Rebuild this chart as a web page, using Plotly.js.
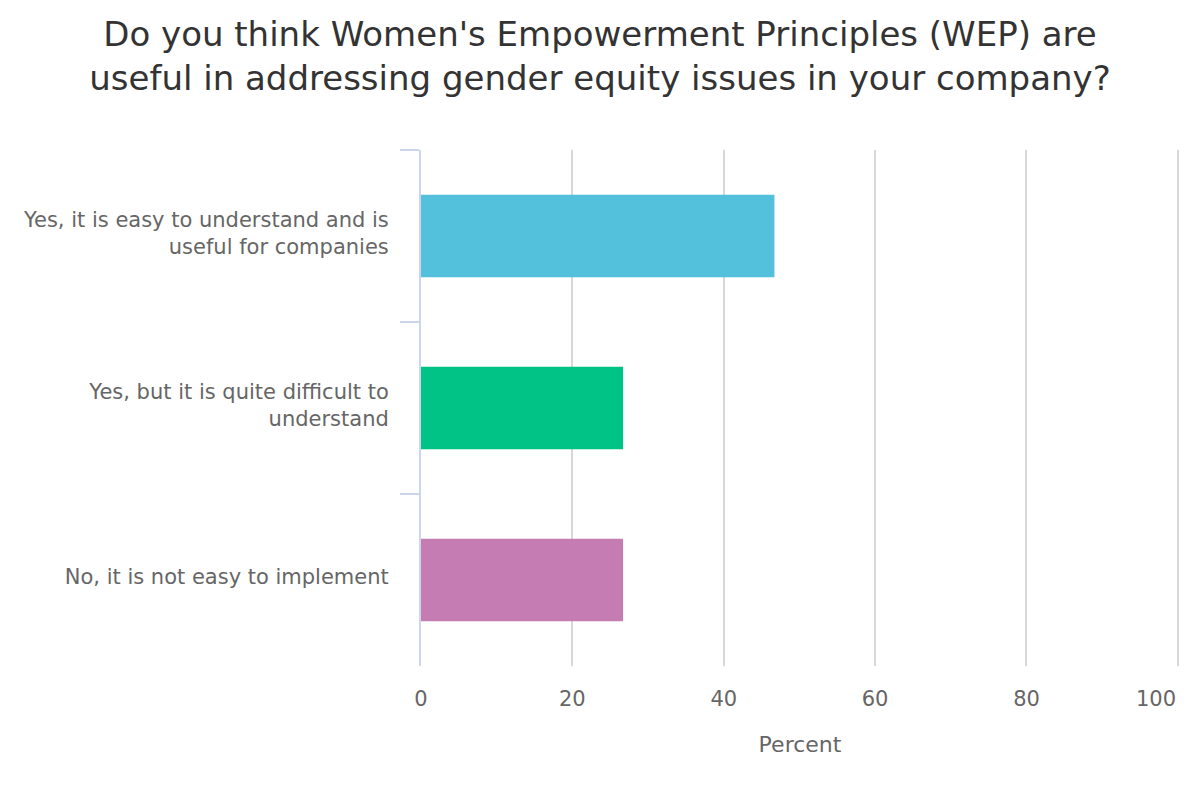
<!DOCTYPE html>
<html>
<head>
<meta charset="utf-8">
<script src="https://cdn.plot.ly/plotly-3.0.1.min.js"></script>
<style>html,body{margin:0;padding:0;background:#fff}#chart{width:1200px;height:800px}</style>
</head>
<body>
<div id="chart"></div>
<script>
const categories = [
  "Yes, it is easy to understand and is<br>useful for companies",
  "Yes, but it is quite difficult to<br>understand",
  "No, it is not easy to implement"
];
const values = [46.7, 26.7, 26.7];
const barColors = ["#54c1dc", "#00c385", "#c47cb3"];
const xTickVals = [0, 20, 40, 60, 80, 100];
const xTickText = ["0", "20", "40", "60", "80", ""];
const xLastTickLabel = "100";

const font = "DejaVu Sans, Verdana, sans-serif";

const trace = {
  type: "bar",
  orientation: "h",
  x: values,
  y: categories,
  marker: {color: barColors, line: {width: 0}},
  hoverinfo: "x+y"
};

const layout = {
  width: 1200, height: 800,
  paper_bgcolor: "#fff", plot_bgcolor: "#fff",
  margin: {l: 421, r: 21, t: 150, b: 134},
  showlegend: false,
  bargap: 0.52,
  font: {family: font, color: "#666"},
  title: {
    text: "Do you think Women's Empowerment Principles (WEP) are<br>useful in addressing gender equity issues in your company?",
    font: {family: font, size: 34, color: "#333"},
    x: 0.5, xanchor: "center",
    y: 0.9425, yanchor: "middle", yref: "container"
  },
  xaxis: {
    range: [0, 100.15],
    tickvals: xTickVals,
    ticktext: xTickText,
    showgrid: true, gridcolor: "#d8d8d8", gridwidth: 2,
    zeroline: false,
    showline: false,
    ticks: "outside", ticklen: 14, tickcolor: "rgba(0,0,0,0)",
    tickfont: {family: font, size: 21, color: "#666"},
    title: {text: "Percent", font: {family: font, size: 22, color: "#666"}, standoff: 26}
  },
  yaxis: {
    autorange: "reversed",
    showline: true, linecolor: "#ccd6eb", linewidth: 2,
    ticks: "outside", tickson: "boundaries", ticklen: 19, tickcolor: "#ccd6eb", tickwidth: 2,
    ticklabelstandoff: 26,
    ticklabelshift: 3,
    showgrid: false, zeroline: false,
    tickfont: {family: font, size: 21, color: "#666"},
    automargin: false
  },
  annotations: [{
    x: 100, xref: "x", y: 0, yref: "paper",
    xanchor: "right", yanchor: "top", yshift: -19,
    text: xLastTickLabel, showarrow: false,
    font: {family: font, size: 21, color: "#666"}
  }]
};

Plotly.newPlot("chart", [trace], layout, {displayModeBar: false, staticPlot: true});
</script>
</body>
</html>
